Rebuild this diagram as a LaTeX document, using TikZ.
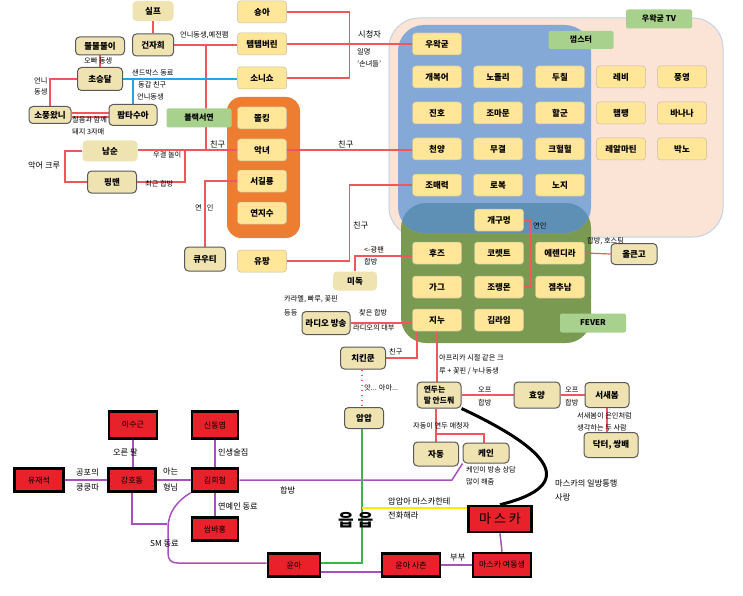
\documentclass[tikz,border=0pt]{standalone}
\usepackage{fontspec}
\setmainfont{Noto Sans CJK KR}
\usetikzlibrary{calc,backgrounds}
\definecolor{ybox}{HTML}{FFE699}
\definecolor{yline}{HTML}{C8BE9E}
\definecolor{tanc}{HTML}{EFE3B2}
\definecolor{redc}{HTML}{E8212B}
\definecolor{rline}{HTML}{F2555E}
\definecolor{bline}{HTML}{22A7E6}
\definecolor{pline}{HTML}{A850BE}
\definecolor{gline}{HTML}{3DB54A}
\definecolor{yel}{HTML}{FFEA00}
\definecolor{orangec}{HTML}{ED7D31}
\definecolor{peach}{HTML}{FBE3D5}
\definecolor{peachline}{HTML}{C5D2E6}
\definecolor{bluec}{HTML}{85A9D6}
\definecolor{greenc}{HTML}{7A9A52}
\definecolor{overlapc}{HTML}{5E90B5}
\definecolor{glabel}{HTML}{A9D18E}
\tikzset{
  base/.style={align=center, inner sep=1pt},
  sz/.style 2 args={minimum width=#1pt, minimum height=#2pt},
  yb/.style={base, fill=ybox, draw=yline, line width=0.5pt, rounded corners=3pt, minimum width=49pt, minimum height=22pt, font=\fontsize{8.5}{10}\selectfont\bfseries},
  tb/.style={base, fill=tanc, draw=black!65, line width=1pt, rounded corners=4pt, font=\fontsize{8.5}{10}\selectfont\bfseries},
  tn/.style={base, fill=tanc, rounded corners=4pt, font=\fontsize{8.5}{10}\selectfont\bfseries},
  rb/.style={base, fill=redc, draw=black, line width=2.6pt, font=\fontsize{8}{10}\selectfont},
  gb/.style={base, fill=glabel, rounded corners=2pt, font=\fontsize{8}{10}\selectfont\bfseries},
  lb/.style={inner sep=0pt, anchor=west, font=\fontsize{7.2}{8}\selectfont},
  lbf/.style={inner sep=0pt, anchor=west, font=\fontsize{8.2}{9}\selectfont},
  rl/.style={draw=rline, line width=1.2pt},
  bl/.style={draw=bline, line width=1.2pt},
  pl/.style={draw=pline, line width=1.5pt},
  gl/.style={draw=gline, line width=1.5pt},
  yl/.style={draw=yel, line width=1.5pt},
}
\begin{document}
\begin{tikzpicture}[x=1pt,y=-1pt]
\useasboundingbox (0,0) rectangle (743,596);

% ---------- top-left cluster ----------
\node[tn, sz={41}{20}] (silp) at (153,11) {실프};
\node[tb, sz={41}{22}] (gunja) at (153,45) {건자희};
\node[tb, sz={49}{18}] (ttul) at (100,46) {뚤뚤뚤이};
\node[tb, sz={45}{23}] (chos) at (100,79) {초승달};
\node[tb, sz={42}{17}] (sopung) at (50,115) {소풍왔니};
\node[tb, sz={48}{21}] (palm) at (133,115) {팜타수아};
\node[tn, sz={55}{21}] (namsun) at (110,151) {남순};
\node[tb, sz={49}{22}] (pingman) at (112,182) {핑맨};
\node[tb, sz={41}{24}] (cutie) at (205,259) {큐우티};
\node[gb, sz={65}{19}] (black) at (199,118) {블랙서연};

% ---------- yellow column ----------
\node[yb] (shonga) at (262,12) {숑아};
\node[yb] (temtem) at (262,44) {템템버린};
\node[yb] (sonisho) at (262,78) {소니쇼};
\node[yb] (jjol) at (262,118) {쫄킹};
\node[yb] (akn) at (262,150) {악녀};
\node[yb] (seogil) at (262,181) {서길룡};
\node[yb] (yeonji) at (262,213) {연지수};
\node[yb] (yupang) at (262,261) {유팡};

% ---------- woowakgood TV ----------
\node[gb, sz={66}{19}] (wtv) at (659,19) {우왁굳 TV};
\node[gb, sz={65}{18}] (gum) at (581,40) {껌스터};
\node[yb] (wak) at (437,44) {우왁굳};
\node[yb] (gaebok) at (437,77) {개복어};
\node[yb] (nodol) at (498,77) {노돌리};
\node[yb] (duchil) at (560,77) {두칠};
\node[yb] (rebi) at (621,77) {레비};
\node[yb] (pung) at (682,77) {풍영};
\node[yb] (jinho) at (437,113) {진호};
\node[yb] (joma) at (498,113) {조마문};
\node[yb] (halgun) at (560,113) {할군};
\node[yb] (hampang) at (621,113) {햄팽};
\node[yb] (banana) at (682,113) {바나나};
\node[yb] (cheon) at (437,149) {천양};
\node[yb] (mugyeol) at (498,149) {무결};
\node[yb] (kheol) at (560,149) {크헐헐};
\node[yb] (real) at (621,149) {레알마틴};
\node[yb] (bakno) at (682,149) {박노};
\node[yb] (jomae) at (437,185) {조매력};
\node[yb] (robok) at (498,185) {로복};
\node[yb] (noji) at (560,185) {노지};

% ---------- FEVER ----------
\node[yb] (gaegu) at (499,220) {개구멍};
\node[yb] (hooz) at (437,253) {후즈};
\node[yb] (koret) at (499,253) {코렛트};
\node[yb] (eren) at (560,253) {에렌디라};
\node[yb] (gag) at (437,287) {가그};
\node[yb] (jorang) at (499,287) {조랭몬};
\node[yb] (gemchu) at (560,287) {겜추남};
\node[yb] (jinu) at (437,320) {지누};
\node[yb] (kimlime) at (499,320) {김라임};
\node[gb, sz={66}{19}] (fever) at (593,323) {FEVER};
\node[tb, sz={46}{21}] (olk) at (634,254) {올큰고};

% ---------- middle ----------
\node[tn, sz={44}{19}] (midok) at (355,281) {미독};
\node[tb, sz={48}{23}] (radio) at (326,323) {라디오 방송};
\node[tb, sz={45}{22}] (chick) at (363,358) {치킨쿤};
\node[tb, sz={39}{21}] (apap) at (364,418) {압압};
\node[tb, sz={44}{26}, align=left, font=\fontsize{7.8}{11}\selectfont\bfseries] (yeondu) at (439,395) {연두는\\말 안드뤄};
\node[tb, sz={46}{26}] (hyoyang) at (537,395) {효양};
\node[tb, sz={44}{25}] (saebom) at (607,395) {서새봄};
\node[tb, sz={54}{25}] (doctor) at (611,445) {닥터, 쌍배};
\node[tb, sz={45}{24}] (jadong) at (436,454) {자동};
\node[tb, sz={46}{20}] (kain) at (486,453) {케인};

% ---------- red boxes ----------
\node[rb, sz={48}{27}] (lee) at (133,425) {이수근};
\node[rb, sz={46}{27}] (shin) at (215,425) {신동엽};
\node[rb, sz={49}{23}] (yoo) at (39,480) {유재석};
\node[rb, sz={47}{23}] (kang) at (132,480) {강호동};
\node[rb, sz={46}{23}] (kim) at (215,480) {김희철};
\node[rb, sz={46}{23}] (ssam) at (215,529) {쌈바홍};
\node[rb, sz={52}{23}] (yoona) at (294,565) {윤아};
\node[rb, sz={58}{23}] (saechon) at (411,565) {윤아 사촌};
\node[rb, sz={58}{24}] (masyd) at (502,565) {마스카 여동생};
\node[rb, sz={63}{26}, font=\fontsize{13}{15}\selectfont] (maska) at (500,519) {마 스 카};

% ---------- labels ----------
\node[lb] (l1) at (180,35) {언니동생,예전팸};
\node[lb] (l2) at (84,61) {오빠 동생};
\node[lb] (l3) at (34,81) {언니};
\node[lb] (l4) at (34,92) {동생};
\node[lb] (l5) at (132,73) {샌드박스 동료};
\node[lb] (l6) at (138,85) {동갑 친구};
\node[lb] (l7) at (137,97) {언니동생};
\node[lb] (l8) at (72,120) {칠음과 함께};
\node[lb] (l9) at (72,132) {돼지 3자매};
\node[lbf] (l10) at (210,144) {친구};
\node[lb] (l11) at (153,155) {우결 놀이};
\node[lbf] (l12) at (28,165) {악어 크루};
\node[lb] (l13) at (145,184) {최근 합방};
\node[lb] (l14) at (195,208) {연\hspace{5pt}인};
\node[lbf] (l15) at (358,34) {시청자};
\node[lb] (l16) at (357,52) {일명};
\node[lb] (l17) at (357,64) {'손녀들'};
\node[lbf] (l18) at (338,144) {친구};
\node[lbf] (l19) at (353,225) {친구};
\node[lb] (l20) at (364,250) {<-광팬};
\node[lb] (l21) at (364,262) {합방};
\node[lb] (l22) at (533,226) {연인};
\node[lb] (l23) at (587,241) {합방, 호스팅};
\node[lb] (l24) at (284,299) {카라멜, 빠루, 꽃핀};
\node[lb] (l25) at (284,313) {등등};
\node[lb] (l26) at (359,313) {찾은 합방};
\node[lb] (l27) at (353,328) {라디오의 대부};
\node[lb] (l28) at (389,352) {친구};
\node[lb] (l29) at (439,358) {아프리카 시절 같은 크};
\node[lb] (l30) at (439,371) {루 + 꽃핀 / 누나동생};
\node[lb] (l31) at (364,388) {앗... 아아...};
\node[lb] (l32) at (478,390) {오프};
\node[lb] (l33) at (478,403) {합방};
\node[lb] (l34) at (565,390) {오프};
\node[lb] (l35) at (565,403) {합방};
\node[lb] (l36) at (413,426) {자동이 연두 애청자};
\node[lb] (l37) at (577,416) {서새봄이 은인처럼};
\node[lb] (l38) at (577,428) {생각하는 두 사람};
\node[lb] (l39) at (466,470) {케인이 방송 상담};
\node[lb] (l40) at (466,482) {많이 해줌};
\node[lbf] (l41) at (555,483) {마스카의 일방통행};
\node[lbf] (l42) at (555,497) {사랑};
\node[lbf] (l43) at (113,452) {오른 팔};
\node[lbf] (l44) at (218,452) {인생술집};
\node[lbf] (l45) at (76,472) {공포의};
\node[lbf] (l46) at (76,487) {쿵쿵따};
\node[lbf] (l47) at (163,471) {아는};
\node[lbf] (l48) at (163,487) {형님};
\node[lbf] (l49) at (218,506) {연예인 동료};
\node[lbf] (l50) at (280,490) {합방};
\node[lbf] (l51) at (150,544) {SM 동료};
\node[lbf] (l52) at (388,501) {압압아 마스카한테};
\node[lbf] (l53) at (388,515) {전화해라};
\node[lb, font=\fontsize{17}{19}\selectfont\bfseries] (l54) at (338,520) {읍 읍};
\node[lbf] (l55) at (450,558) {부부};

\coordinate (j1) at (206,45);
\coordinate (j2) at (206,150);
\coordinate (j5) at (185,150);
\coordinate (j6) at (65,165);
\coordinate (j7) at (133,79);
\coordinate (j4) at (436,434);
\coordinate (j8) at (167,524);
\coordinate (j9) at (452,480);
\coordinate (j10) at (362,508);

\begin{scope}[on background layer]
  \fill[white] (0,0) rectangle (743,596);
  % groups
  \filldraw[fill=peach, draw=peachline, line width=1pt, rounded corners=30pt] (389,18) rectangle (723,237);
  \fill[greenc, rounded corners=25pt] (401,203) rectangle (591,343);
  \fill[bluec, rounded corners=26pt] (398,25) rectangle (591,233);
  \begin{scope}
    \clip[rounded corners=25pt] (401,203) rectangle (591,343);
    \fill[overlapc, rounded corners=26pt] (398,25) rectangle (591,233);
  \end{scope}
  \fill[orangec, rounded corners=14pt] (227,97) rectangle (300,238);

  % red connectors
  \draw[rl] (silp) -- (gunja);
  \draw[rl] (gunja.east) -- (gunja.east -| temtem.west);
  \draw[rl] (j1) -- (j2);
  \draw[rl] (namsun.east |- akn.west) -- (akn.west);
  \draw[rl] (pingman.east) -| (j5);
  \draw[rl] (namsun.west) -| (j6) |- (pingman.west);
  \draw[rl] (ttul.south) -- (ttul.south |- chos.north);
  \draw[rl] (chos.west) -| (sopung.north);
  \draw[rl] ([yshift=2pt]sopung.east) -- ([yshift=2pt]sopung.east -| palm.west);
  \draw[rl] ([yshift=-2pt]sopung.east) -- ([yshift=-2pt]sopung.east -| palm.west);
  \draw[rl] (shonga.east) -- ++(63,0) |- (sonisho.east);
  \draw[rl] (temtem.east) -- (wak.west);
  \draw[rl] (akn.east) -- (akn.east -| cheon.west);
  \draw[rl] (seogil.west) -| (cutie.north);
  \draw[rl] (jomae.west) -- ++(-63,0) |- (yupang.east);
  \draw[rl] ([yshift=-3pt]hooz.west) -| (midok.north);
  \draw[rl] (eren.east) -- (olk.west);
  \draw[rl] (gaegu.east) -- ++(7,0) |- (jorang.east);
  \draw[rl] (radio.east) -- (radio.east -| jinu.west);
  \draw[rl] (chick.east) -| ([xshift=-20pt]jinu.south);
  \draw[rl] (jinu.south) -- (jinu.south |- yeondu.north);
  \draw[rl] (jadong.north |- yeondu.south) -- (jadong.north);
  \draw[rl] (j4) -| ([xshift=-2pt]kain.north);
  \draw[rl] (yeondu.east) -- (hyoyang.west);
  \draw[rl] (hyoyang.east) -- (saebom.west);
  \draw[rl] (saebom.south) -- (saebom.south |- doctor.north);
  \draw[rl, dash pattern=on 1.5pt off 3.5pt] ([xshift=-1pt]chick.south) -- ([xshift=-1pt]chick.south |- apap.north);

  % blue
  \draw[bl] (chos.east) -- (chos.east -| sonisho.west);
  \draw[bl] (j7) -- (palm.north);

  % purple
  \draw[pl] (lee.south) -- (lee.south |- kang.north);
  \draw[pl] (yoo) -- (kang);
  \draw[pl] (kang) -- (kim);
  \draw[pl] (shin) -- (kim);
  \draw[pl] (kim) -- (ssam);
  \draw[pl] (kang.south) |- (j8);
  \draw[pl] (kim.south west) .. controls (178,500) and (168,512) .. (168,528) -- (168,553) .. controls (168,560) and (171,563) .. (178,563) -- ([yshift=2pt]yoona.west);
  \draw[pl] (kim.east) -- (j9) -- (kain.south west);
  \draw[pl] ([yshift=-7pt]yoona.east) -- ([yshift=-7pt]yoona.east -| saechon.west);
  \draw[pl] (saechon.east) -- (masyd.west);
  \draw[pl] (maska.south) -- (masyd.north);

  % green / yellow / black
  \draw[gl] ([xshift=-2pt]apap.south) |- ([yshift=2pt]yoona.east);
  \draw[yl] (j10) -- (j10 -| maska.west);
  \draw[black, line width=3pt] (yeondu.south east) .. controls (550,450) and (580,485) .. (maska.north);
\end{scope}
\end{tikzpicture}
\end{document}
